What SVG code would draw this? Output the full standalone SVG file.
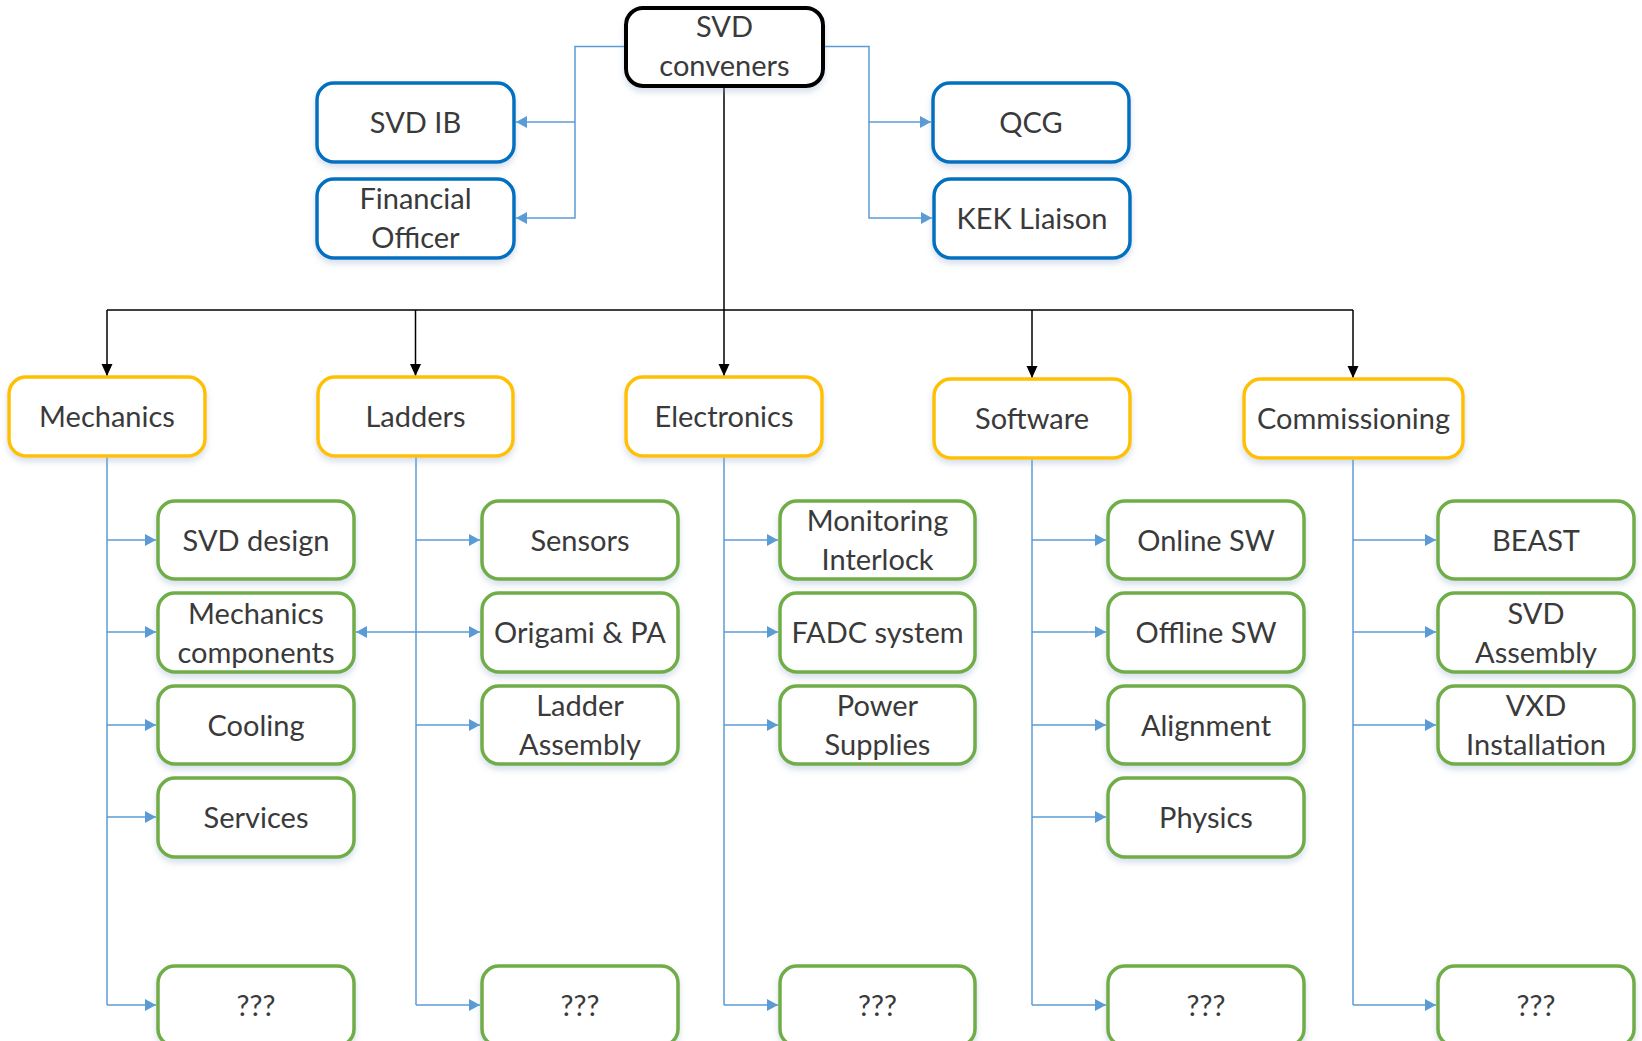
<svg xmlns="http://www.w3.org/2000/svg" width="1642" height="1041" viewBox="0 0 1642 1041">
<style>
.box{fill:#fff;stroke-width:3.5;filter:url(#sh)}
.k{stroke:#000;stroke-width:4}
.b{stroke:#0070C0}
.y{stroke:#FFC000}
.g{stroke:#70AD47}
text{font-family:Lato,"Liberation Sans",sans-serif;font-size:29px;fill:#3a3a3a;text-anchor:middle}
.bl{fill:none;stroke:#5B9BD5;stroke-width:1.5}
.bk{fill:none;stroke:#000;stroke-width:1.5}
</style>
<defs>
<filter id="sh" x="-10%" y="-10%" width="120%" height="130%">
<feDropShadow dx="0" dy="4" stdDeviation="3" flood-color="#8aa4c8" flood-opacity="0.35"/>
</filter>
<marker id="ab" markerUnits="userSpaceOnUse" markerWidth="12" markerHeight="12" refX="11" refY="6" orient="auto">
<path d="M0,0 L11,6 L0,12 z" fill="#5B9BD5"/>
</marker>
<marker id="ak" markerUnits="userSpaceOnUse" markerWidth="12" markerHeight="12" refX="12" refY="5.5" orient="auto">
<path d="M0,0 L12,5.5 L0,11 z" fill="#000"/>
</marker>
</defs>

<g id="connectors">
<path class="bl" d="M626 46.5 H575 V218 H516" marker-end="url(#ab)"/>
<path class="bl" d="M575 122 H516" marker-end="url(#ab)"/>
<path class="bl" d="M823 46.5 H869 V218 H932" marker-end="url(#ab)"/>
<path class="bl" d="M869 122 H931" marker-end="url(#ab)"/>
<path class="bk" d="M724 86 V310"/>
<path class="bk" d="M107 310 H1353"/>
<path class="bk" d="M107 310 V376" marker-end="url(#ak)"/>
<path class="bk" d="M415.5 310 V376" marker-end="url(#ak)"/>
<path class="bk" d="M724 310 V376" marker-end="url(#ak)"/>
<path class="bk" d="M1032 310 V378" marker-end="url(#ak)"/>
<path class="bk" d="M1353 310 V378" marker-end="url(#ak)"/>
<path class="bl" d="M107 456 V1005"/>
<path class="bl" d="M107 540 H156" marker-end="url(#ab)"/>
<path class="bl" d="M107 632 H156" marker-end="url(#ab)"/>
<path class="bl" d="M107 725 H156" marker-end="url(#ab)"/>
<path class="bl" d="M107 817 H156" marker-end="url(#ab)"/>
<path class="bl" d="M107 1005 H156" marker-end="url(#ab)"/>
<path class="bl" d="M416 456 V1005"/>
<path class="bl" d="M416 540 H480" marker-end="url(#ab)"/>
<path class="bl" d="M416 632 H480" marker-end="url(#ab)"/>
<path class="bl" d="M416 632 H356" marker-end="url(#ab)"/>
<path class="bl" d="M416 725 H480" marker-end="url(#ab)"/>
<path class="bl" d="M416 1005 H480" marker-end="url(#ab)"/>
<path class="bl" d="M724 456 V1005"/>
<path class="bl" d="M724 540 H778" marker-end="url(#ab)"/>
<path class="bl" d="M724 632 H778" marker-end="url(#ab)"/>
<path class="bl" d="M724 725 H778" marker-end="url(#ab)"/>
<path class="bl" d="M724 1005 H778" marker-end="url(#ab)"/>
<path class="bl" d="M1032 458 V1005"/>
<path class="bl" d="M1032 540 H1106" marker-end="url(#ab)"/>
<path class="bl" d="M1032 632 H1106" marker-end="url(#ab)"/>
<path class="bl" d="M1032 725 H1106" marker-end="url(#ab)"/>
<path class="bl" d="M1032 817 H1106" marker-end="url(#ab)"/>
<path class="bl" d="M1032 1005 H1106" marker-end="url(#ab)"/>
<path class="bl" d="M1353 458 V1005"/>
<path class="bl" d="M1353 540 H1436" marker-end="url(#ab)"/>
<path class="bl" d="M1353 632 H1436" marker-end="url(#ab)"/>
<path class="bl" d="M1353 725 H1436" marker-end="url(#ab)"/>
<path class="bl" d="M1353 1005 H1436" marker-end="url(#ab)"/>
</g>

<g id="svd-conveners"><rect class="box k" x="626" y="8" width="197" height="78" rx="17"/><text x="724.5" y="37">SVD</text><text x="724.5" y="76">conveners</text></g>
<g id="svd-ib"><rect class="box b" x="317" y="83" width="197" height="79" rx="17"/><text x="415.5" y="133">SVD IB</text></g>
<g id="financial-officer"><rect class="box b" x="317" y="179" width="197" height="79" rx="17"/><text x="415.5" y="209">Financial</text><text x="415.5" y="248">Officer</text></g>
<g id="qcg"><rect class="box b" x="933" y="83" width="196" height="79" rx="17"/><text x="1031" y="133">QCG</text></g>
<g id="kek-liaison"><rect class="box b" x="934" y="179" width="196" height="79" rx="17"/><text x="1032" y="229">KEK Liaison</text></g>

<g id="mechanics"><rect class="box y" x="9" y="377" width="196" height="79" rx="17"/><text x="107" y="427">Mechanics</text></g>
<g id="ladders"><rect class="box y" x="318" y="377" width="195" height="79" rx="17"/><text x="415.5" y="427">Ladders</text></g>
<g id="electronics"><rect class="box y" x="626" y="377" width="196" height="79" rx="17"/><text x="724" y="427">Electronics</text></g>
<g id="software"><rect class="box y" x="934" y="379" width="196" height="79" rx="17"/><text x="1032" y="429">Software</text></g>
<g id="commissioning"><rect class="box y" x="1244" y="379" width="219" height="79" rx="17"/><text x="1353.5" y="429">Commissioning</text></g>

<g id="svd-design"><rect class="box g" x="158" y="501" width="196" height="78" rx="17"/><text x="256" y="551">SVD design</text></g>
<g id="mechanics-components"><rect class="box g" x="158" y="593" width="196" height="79" rx="17"/><text x="256" y="624">Mechanics</text><text x="256" y="663">components</text></g>
<g id="cooling"><rect class="box g" x="158" y="686" width="196" height="78" rx="17"/><text x="256" y="736">Cooling</text></g>
<g id="services"><rect class="box g" x="158" y="778" width="196" height="79" rx="17"/><text x="256" y="828">Services</text></g>
<g id="mech-unknown"><rect class="box g" x="158" y="966" width="196" height="80" rx="17"/><text x="256" y="1016">???</text></g>

<g id="sensors"><rect class="box g" x="482" y="501" width="196" height="78" rx="17"/><text x="580" y="551">Sensors</text></g>
<g id="origami-pa"><rect class="box g" x="482" y="593" width="196" height="79" rx="17"/><text x="580" y="643">Origami &amp; PA</text></g>
<g id="ladder-assembly"><rect class="box g" x="482" y="686" width="196" height="78" rx="17"/><text x="580" y="716">Ladder</text><text x="580" y="755">Assembly</text></g>
<g id="ladders-unknown"><rect class="box g" x="482" y="966" width="196" height="80" rx="17"/><text x="580" y="1016">???</text></g>

<g id="monitoring-interlock"><rect class="box g" x="780" y="501" width="195" height="78" rx="17"/><text x="877.5" y="531">Monitoring</text><text x="877.5" y="570">Interlock</text></g>
<g id="fadc-system"><rect class="box g" x="780" y="593" width="195" height="79" rx="17"/><text x="877.5" y="643">FADC system</text></g>
<g id="power-supplies"><rect class="box g" x="780" y="686" width="195" height="78" rx="17"/><text x="877.5" y="716">Power</text><text x="877.5" y="755">Supplies</text></g>
<g id="electronics-unknown"><rect class="box g" x="780" y="966" width="195" height="80" rx="17"/><text x="877.5" y="1016">???</text></g>

<g id="online-sw"><rect class="box g" x="1108" y="501" width="196" height="78" rx="17"/><text x="1206" y="551">Online SW</text></g>
<g id="offline-sw"><rect class="box g" x="1108" y="593" width="196" height="79" rx="17"/><text x="1206" y="643">Offline SW</text></g>
<g id="alignment"><rect class="box g" x="1108" y="686" width="196" height="78" rx="17"/><text x="1206" y="736">Alignment</text></g>
<g id="physics"><rect class="box g" x="1108" y="778" width="196" height="79" rx="17"/><text x="1206" y="828">Physics</text></g>
<g id="software-unknown"><rect class="box g" x="1108" y="966" width="196" height="80" rx="17"/><text x="1206" y="1016">???</text></g>

<g id="beast"><rect class="box g" x="1438" y="501" width="196" height="78" rx="17"/><text x="1536" y="551">BEAST</text></g>
<g id="svd-assembly"><rect class="box g" x="1438" y="593" width="196" height="79" rx="17"/><text x="1536" y="624">SVD</text><text x="1536" y="663">Assembly</text></g>
<g id="vxd-installation"><rect class="box g" x="1438" y="686" width="196" height="78" rx="17"/><text x="1536" y="716">VXD</text><text x="1536" y="755">Installation</text></g>
<g id="commissioning-unknown"><rect class="box g" x="1438" y="966" width="196" height="80" rx="17"/><text x="1536" y="1016">???</text></g>
</svg>
